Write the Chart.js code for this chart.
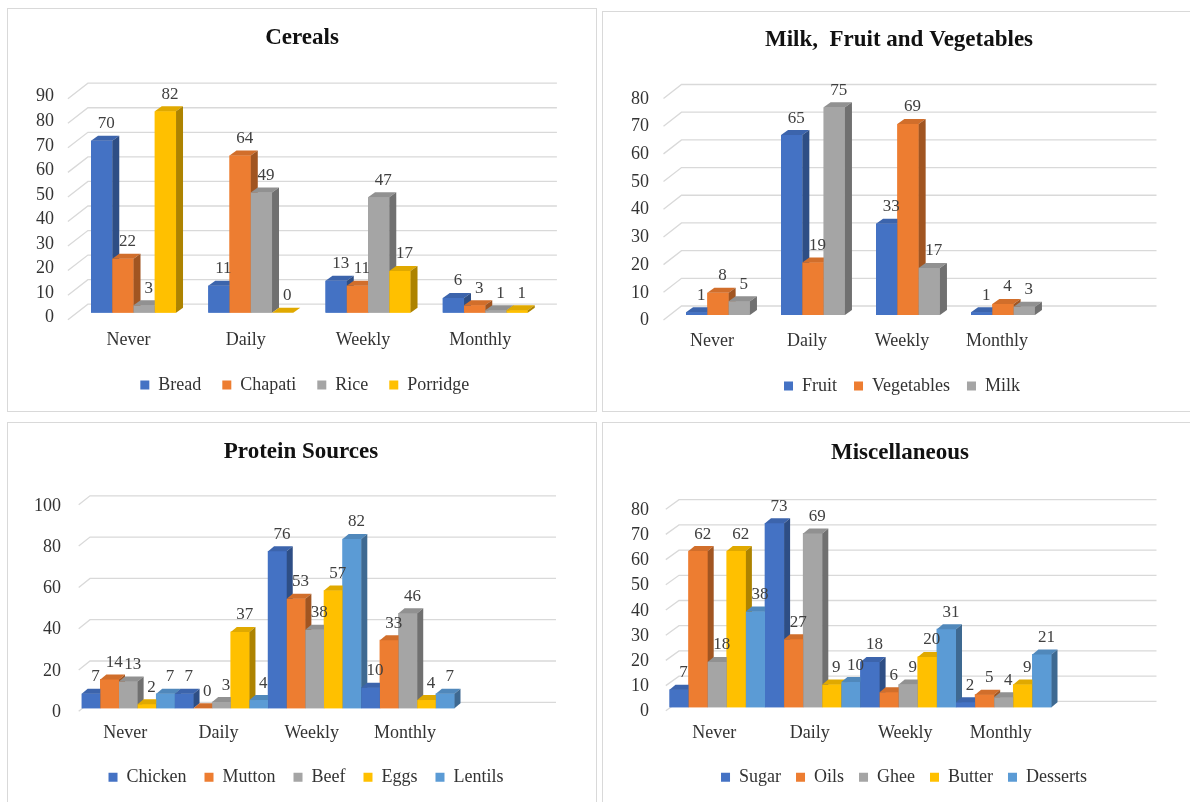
<!DOCTYPE html>
<html>
<head>
<meta charset="utf-8">
<script src="https://cdn.jsdelivr.net/npm/chart.js@4"></script>
<style>
  html, body { margin: 0; padding: 0; background: #fff; width: 1190px; height: 802px; overflow: hidden; }
  .panel { position: absolute; border: 1px solid #d9d9d9; box-sizing: border-box; }
  canvas { position: absolute; }
</style>
</head>
<body>
<div class="panel" style="left:7px;top:8px;width:590px;height:404px"></div>
<div class="panel" style="left:602px;top:11px;width:600px;height:401px"></div>
<div class="panel" style="left:7px;top:422px;width:590px;height:400px"></div>
<div class="panel" style="left:602px;top:422px;width:600px;height:400px"></div>
<canvas id="cereals" width="590" height="404" style="left:7px;top:8px"></canvas>
<canvas id="mfv" width="590" height="401" style="left:602px;top:11px"></canvas>
<canvas id="protein" width="590" height="380" style="left:7px;top:422px"></canvas>
<canvas id="misc" width="590" height="380" style="left:602px;top:422px"></canvas>
<script>
// Data
const cerealCats = ['Never', 'Daily', 'Weekly', 'Monthly'];
const bread = [70, 11, 13, 6];
const chapati = [22, 64, 11, 3];
const rice = [3, 49, 47, 1];
const porridge = [82, 0, 17, 1];

// kategori kelima kosong seperti di grafik aslinya
const mfvCats = ['Never', 'Daily', 'Weekly', 'Monthly', ''];
const fruit = [1, 65, 33, 1];
const vegetables = [8, 19, 69, 4];
const milk = [5, 75, 17, 3];

const proteinCats = ['Never', 'Daily', 'Weekly', 'Monthly', ''];
const chicken = [7, 7, 76, 10];
const mutton = [14, 0, 53, 33];
const beef = [13, 3, 38, 46];
const eggs = [2, 37, 57, 4];
const lentils = [7, 4, 82, 7];

const miscCats = ['Never', 'Daily', 'Weekly', 'Monthly', ''];
const sugar = [7, 73, 18, 2];
const oils = [62, 27, 6, 5];
const ghee = [18, 69, 9, 4];
const butter = [62, 9, 20, 9];
const desserts = [38, 10, 31, 21];

// skala sumbu Y: [max, step]
const cerealAxis = [90, 10];
const mfvAxis = [80, 10];
const proteinAxis = [100, 20];
const miscAxis = [80, 10];

const BLUE = '#4472C4', ORANGE = '#ED7D31', GRAY = '#A5A5A5', YELLOW = '#FFC000', LBLUE = '#5B9BD5';
const FONT = '"Liberation Serif", "Times New Roman", serif';

function shade(hex, f) {
  const n = parseInt(hex.slice(1), 16);
  const r = (n >> 16) & 255, g = (n >> 8) & 255, b = n & 255;
  return 'rgb(' + Math.round(r * f) + ',' + Math.round(g * f) + ',' + Math.round(b * f) + ')';
}

// plugin: garis grid dinding belakang + efek batang 3D + label nilai
const bars3d = {
  id: 'bars3d',
  afterLayout(chart, args, o) {
    // geser judul & legenda ke tengah seperti di Excel
    [[chart.titleBlock, o.titleX], [chart.legend, o.legendX]].forEach(([box, cx]) => {
      if (!box) return;
      const s = cx - (box.left + box.right) / 2;
      box.left += s; box.right += s;
    });
  },
  beforeDatasetsDraw(chart, args, o) {
    const { ctx, chartArea: a, scales: { y } } = chart;
    ctx.save();
    ctx.strokeStyle = '#d9d9d9';
    ctx.lineWidth = 1.3;
    y.ticks.forEach(t => {
      const py = y.getPixelForValue(t.value);
      ctx.beginPath();
      ctx.moveTo(a.left + o.fx, py + o.fy);
      ctx.lineTo(a.left + o.bx, py + o.by);
      ctx.lineTo(a.right + o.bx, py + o.by);
      ctx.stroke();
    });
    ctx.restore();
  },
  afterDatasetsDraw(chart, args, o) {
    const ctx = chart.ctx;
    const items = [];
    chart.data.datasets.forEach((ds, i) => {
      chart.getDatasetMeta(i).data.forEach((bar, j) => {
        const v = ds.data[j];
        if (v === undefined || v === null) return;
        items.push({ bar, v, color: ds.backgroundColor });
      });
    });
    items.sort((p, q) => p.bar.x - q.bar.x);
    const d = o.depth, h = o.rise;
    ctx.save();
    items.forEach(({ bar, color }) => {
      const l = bar.x - bar.width / 2, r = bar.x + bar.width / 2, t = bar.y, b = bar.base;
      ctx.fillStyle = color;
      ctx.fillRect(l, t, r - l, b - t);
      ctx.fillStyle = shade(color, 0.88);
      ctx.beginPath();
      ctx.moveTo(l, t); ctx.lineTo(r, t); ctx.lineTo(r + d, t - h); ctx.lineTo(l + d, t - h);
      ctx.closePath(); ctx.fill();
      ctx.fillStyle = shade(color, 0.68);
      ctx.beginPath();
      ctx.moveTo(r, t); ctx.lineTo(r + d, t - h); ctx.lineTo(r + d, b - h); ctx.lineTo(r, b);
      ctx.closePath(); ctx.fill();
    });
    ctx.font = '17px ' + FONT;
    ctx.fillStyle = '#404040';
    ctx.textAlign = 'center';
    ctx.textBaseline = 'middle';
    items.forEach(({ bar, v }) => ctx.fillText(String(v), bar.x + 4.5, bar.y - 17));
    ctx.restore();
  }
};

function makeChart(id, title, cats, series, axis, L) {
  return new Chart(document.getElementById(id), {
    type: 'bar',
    data: {
      labels: cats,
      datasets: series.map(s => ({
        label: s[0], data: s[1], backgroundColor: s[2], borderWidth: 0,
        barPercentage: 1, categoryPercentage: L.cat
      }))
    },
    options: {
      responsive: false,
      animation: false,
      layout: { padding: { left: 0, right: L.padR, top: 0, bottom: L.padB } },
      scales: {
        x: {
          grid: { display: false, drawTicks: false },
          border: { display: false },
          ticks: { padding: L.xPad, labelOffset: L.xOff, color: '#333', font: { family: FONT, size: 18 }, maxRotation: 0, autoSkip: false },
          afterFit: s => { s.height = L.xH; }
        },
        y: {
          min: 0, max: axis[0],
          grid: { display: false, drawTicks: false },
          border: { display: false },
          ticks: { stepSize: axis[1], autoSkip: false, padding: L.yPad, labelOffset: L.yOff, color: '#333', font: { family: FONT, size: 18 } },
          afterFit: s => { s.width = L.yW; }
        }
      },
      plugins: {
        title: {
          display: true, text: title, color: '#111',
          font: { family: FONT, size: 23, weight: 'bold' },
          padding: { top: L.tTop, bottom: L.tBot }
        },
        legend: {
          position: 'bottom',
          labels: { boxWidth: 9, boxHeight: 9, padding: L.lPad, color: '#333', font: { family: FONT, size: 18 } }
        },
        tooltip: { enabled: false },
        bars3d: L.g3d
      }
    },
    plugins: [bars3d]
  });
}

makeChart('cereals', 'Cereals', cerealCats, [
  ['Bread', bread, BLUE], ['Chapati', chapati, ORANGE], ['Rice', rice, GRAY], ['Porridge', porridge, YELLOW]
], cerealAxis, {
  cat: 0.725, padR: 53.1, padB: 8, yW: 67.9, yPad: 20.9, yOff: 5, xH: 42.3, xPad: 16.5, xOff: -5,
  tTop: 16.2, tBot: 39.9, lPad: 21,
  g3d: { fx: -7, fy: 7, bx: 13, by: -8.5, depth: 7, rise: 5, titleX: 295, legendX: 297.8 }
});

makeChart('mfv', 'Milk,  Fruit and Vegetables', mfvCats, [
  ['Fruit', fruit, BLUE], ['Vegetables', vegetables, ORANGE], ['Milk', milk, GRAY]
], mfvAxis, {
  cat: 0.673, padR: 46.5, padB: 7, yW: 68.5, yPad: 21.5, yOff: 5.5, xH: 45, xPad: 15.9, xOff: -6,
  tTop: 15.2, tBot: 39.7, lPad: 17,
  g3d: { fx: -7, fy: 5, bx: 11, by: -9, depth: 7, rise: 5, titleX: 297, legendX: 300 }
});

makeChart('protein', 'Protein Sources', proteinCats, [
  ['Chicken', chicken, BLUE], ['Mutton', mutton, ORANGE], ['Beef', beef, GRAY], ['Eggs', eggs, YELLOW], ['Lentils', lentils, LBLUE]
], proteinAxis, {
  cat: 1.0, padR: 49.3, padB: 5.7, yW: 74.7, yPad: 20.7, yOff: 4, xH: 42, xPad: 14.2, xOff: -3,
  tTop: 15.9, tBot: 36.3, lPad: 18,
  g3d: { fx: -3, fy: 3, bx: 8.3, by: -6, depth: 6, rise: 5, titleX: 294, legendX: 299 }
});

makeChart('misc', 'Miscellaneous', miscCats, [
  ['Sugar', sugar, BLUE], ['Oils', oils, ORANGE], ['Ghee', ghee, GRAY], ['Butter', butter, YELLOW], ['Desserts', desserts, LBLUE]
], miscAxis, {
  cat: 1.0, padR: 45, padB: 5.7, yW: 67.5, yPad: 20.5, yOff: 4.3, xH: 46, xPad: 15.2, xOff: -3,
  tTop: 17.5, tBot: 38.6, lPad: 15,
  g3d: { fx: -3.7, fy: 3.5, bx: 9.5, by: -6, depth: 6, rise: 5, titleX: 298, legendX: 302 }
});
</script>
</body>
</html>
